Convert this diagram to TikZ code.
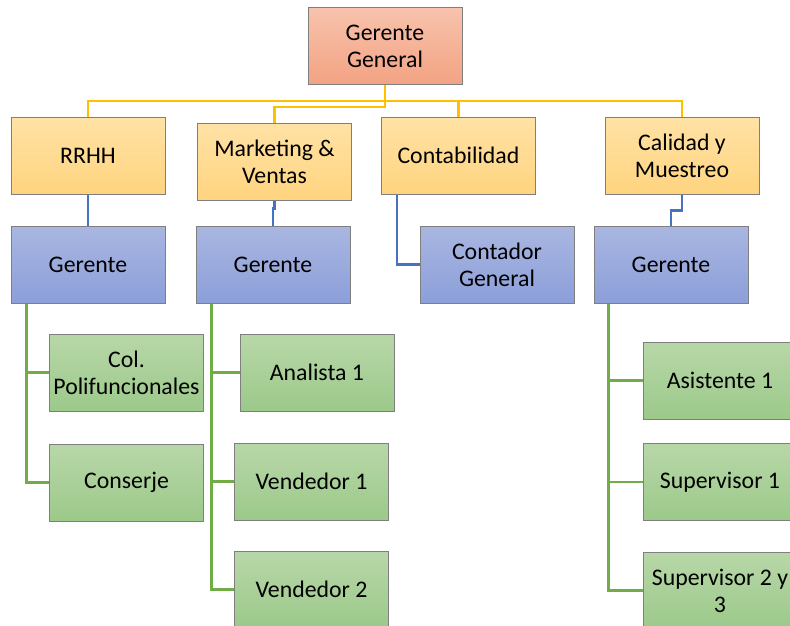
\documentclass[tikz,border=0pt]{standalone}
\usepackage{fontspec}
\setmainfont{Carlito}
\usetikzlibrary{calc}
\definecolor{framegray}{HTML}{7F7F7F}
\definecolor{topA}{HTML}{F8C3AC}
\definecolor{topB}{HTML}{F3A283}
\definecolor{yelA}{HTML}{FFE2A6}
\definecolor{yelB}{HTML}{FFD47F}
\definecolor{bluA}{HTML}{A9B6E1}
\definecolor{bluB}{HTML}{8C9FD9}
\definecolor{grnA}{HTML}{B8D7A8}
\definecolor{grnB}{HTML}{9CC98A}
\definecolor{ylinec}{HTML}{FFC000}
\definecolor{blinec}{HTML}{4472C4}
\definecolor{glinec}{HTML}{70AD47}
\tikzset{
  orgbox/.style={draw=framegray, line width=1pt, minimum width=154pt,
    minimum height=77pt, inner sep=1pt, align=center,
    font=\fontsize{23.8}{27}\selectfont},
  topbox/.style={orgbox, top color=topA, bottom color=topB},
  deptbox/.style={orgbox, top color=yelA, bottom color=yelB},
  headbox/.style={orgbox, top color=bluA, bottom color=bluB},
  staffbox/.style={orgbox, top color=grnA, bottom color=grnB},
  ylink/.style={draw=ylinec, line width=2.4pt},
  blink/.style={draw=blinec, line width=2.4pt},
  glink/.style={draw=glinec, line width=2.4pt}
}
\begin{document}
\begin{tikzpicture}[x=1pt, y=-1pt]
\useasboundingbox (0,0) rectangle (790,626);
\clip (0,0) rectangle (790,626);
\fill[white] (0,0) rectangle (790,626);

% bus levels of the top connectors
\coordinate (busA) at (0,101);
\coordinate (busB) at (0,107);

% boxes
\node[topbox] (gg) at (385,46.5) {Gerente\\General};

\node[deptbox] (rrhh) at (88,155.5) {RRHH};
\node[deptbox] (mkt) at (274.5,161.5) {Marketing \&\\Ventas};
\node[deptbox] (cont) at (458.5,155.5) {Contabilidad};
\node[deptbox] (cal) at (682,155.5) {Calidad y\\Muestreo};

\node[headbox] (g1) at (88,264.5) {Gerente};
\node[headbox] (g2) at (273,264.5) {Gerente};
\node[headbox] (cg) at (497,264.5) {Contador\\General};
\node[headbox] (g4) at (671,264.5) {Gerente};

\node[staffbox] (col) at (126.5,372.5) {Col.\\Polifuncionales};
\node[staffbox] (conj) at (126.5,482.5) {Conserje};

\node[staffbox] (an1) at (317,372.5) {Analista 1};
\node[staffbox] (ven1) at (311.5,481.5) {Vendedor 1};
\node[staffbox] (ven2) at (311.5,589.5) {Vendedor 2};

\node[staffbox] (as1) at (720,380.5) {Asistente 1};
\node[staffbox] (sup1) at (720,482) {Supervisor 1};
\node[staffbox] (sup2) at (720,590.5) {Supervisor 2 y\\3};

% top level connectors
\draw[ylink] (gg.south) -- (gg.south |- busA) -| (rrhh.north);
\draw[ylink] (gg.south) -- (gg.south |- busB) -| (mkt.north);
\draw[ylink] (gg.south) -- (gg.south |- busA) -| (cont.north);
\draw[ylink] (gg.south) -- (gg.south |- busA) -| (cal.north);

% department to head connectors
\draw[blink] (rrhh.south) -- (g1.north);
\draw[blink] (mkt.south) -- ++(0,8) -| (g2.north);
\draw[blink] ([xshift=16pt]cont.south west) |- (cg.west);
\draw[blink] (cal.south) -- ++(0,16) -| (g4.north);

% head to staff connectors
\draw[glink] ([xshift=16pt]g1.south west) |- (col.west);
\draw[glink] ([xshift=16pt]g1.south west) |- (conj.west);
\draw[glink] ([xshift=16pt]g2.south west) |- (an1.west);
\draw[glink] ([xshift=16pt]g2.south west) |- (ven1.west);
\draw[glink] ([xshift=16pt]g2.south west) |- (ven2.west);
\draw[glink] ([xshift=15pt]g4.south west) |- (as1.west);
\draw[glink] ([xshift=15pt]g4.south west) |- (sup1.west);
\draw[glink] ([xshift=15pt]g4.south west) |- (sup2.west);
\end{tikzpicture}
\end{document}
